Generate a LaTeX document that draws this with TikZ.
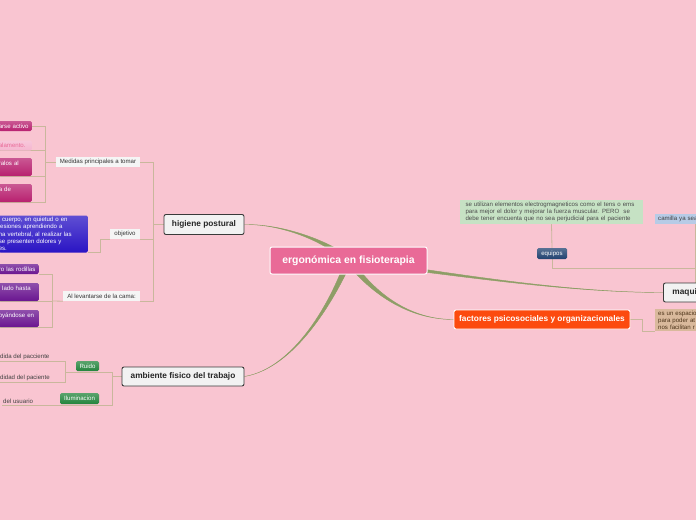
\documentclass[tikz,border=0pt]{standalone}
\usepackage{fontspec}
\setmainfont{Liberation Sans}
\usetikzlibrary{calc, backgrounds}
\definecolor{bgpink}{HTML}{F9C5D1}
\definecolor{rootpink}{HTML}{E96A97}
\definecolor{topicfill}{HTML}{F2F2F2}
\definecolor{topicedge}{HTML}{3A3A3A}
\definecolor{orangered}{HTML}{FC4A0E}
\definecolor{branchcol}{HTML}{8E9E66}
\definecolor{conncol}{HTML}{C9B79C}
\definecolor{tagfill}{HTML}{F5F5F5}
\definecolor{cmag}{HTML}{B8206F}
\definecolor{cpale}{HTML}{F5B5CF}
\definecolor{cblue}{HTML}{2A14C4}
\definecolor{cpurple}{HTML}{6A1590}
\definecolor{cgreen}{HTML}{23843C}
\definecolor{cnavy}{HTML}{214270}
\definecolor{eqgreen}{HTML}{C6E2C4}
\definecolor{camblue}{HTML}{B7CBE6}
\definecolor{tan}{HTML}{D9B99C}
\tikzset{
  every picture/.style={x=1pt, y=-1pt},
  root/.style={fill=rootpink, draw=white, line width=1pt, rounded corners=2pt, text=white,
    font=\fontsize{10.4}{12}\selectfont\bfseries, minimum width=157pt, minimum height=27pt},
  topic/.style={fill=topicfill, draw=topicedge, line width=0.9pt, rounded corners=2pt, text=black!85,
    font=\fontsize{8.3}{10}\selectfont\bfseries, inner sep=0pt, minimum height=20pt},
  tag/.style={fill=tagfill, text=black!80, font=\fontsize{6.1}{7.2}\selectfont, inner sep=0pt, minimum height=10pt},
  pill/.style={top color=#1!75!white, bottom color=#1, draw=none, text=white, rounded corners=1.5pt,
    font=\fontsize{6.1}{7.2}\selectfont, inner sep=0pt, minimum height=10pt},
  cutbox/.style={anchor=east, align=left, inner xsep=0pt, inner ysep=1.5pt},
  leaf/.style={anchor=south west, text=black!75, font=\fontsize{6.1}{7.2}\selectfont, inner sep=1pt},
  conn/.style={draw=conncol, line width=0.8pt},
  branch/.style={fill=branchcol, draw=branchcol, line width=0.4pt},
}
% tapered branch from the central topic
\newcommand{\branch}[5]{%
  \filldraw[branch] ($(#1)+(#5)$) .. controls ($(#2)+0.4*(#5)$) and (#3) .. (#4)
    .. controls (#3) and ($(#2)-0.4*(#5)$) .. ($(#1)-(#5)$) -- cycle;}

\begin{document}
\begin{tikzpicture}
  \useasboundingbox (0,0) rectangle (696,520);

  % main topics
  \node[root] (root) at (348.5,260.5) {ergonómica en fisioterapia};
  \node[topic, minimum width=80pt] (higiene) at (204,224.5) {higiene postural};
  \node[topic, minimum width=122pt, minimum height=19pt] (ambiente) at (183,376.5) {ambiente fisico del trabajo};
  \node[topic, fill=orangered, draw=white, text=white, minimum width=176pt, minimum height=19pt] (factores) at (542,319.5) {factores psicosociales y organizacionales};
  \node[topic, anchor=west, inner xsep=9pt, text width=42pt, align=left, minimum height=19pt] (maqui) at (663,292.5) {maqui};

  % higiene postural
  \node[tag, minimum width=84pt] (medidas) at (98,162) {Medidas principales a tomar};
  \node[tag, minimum width=30pt] (objetivo) at (125,234) {objetivo};
  \node[tag, minimum width=77pt] (levantar) at (101.5,296) {Al levantarse de la cama:};

  \node[cutbox, pill=cmag, text width=33pt] (pk1) at (32,126) {arse activo};
  \node[cutbox, pill=cpale, text=rootpink, text width=33pt] (pk2) at (32,145.5) {alamento.};
  \node[cutbox, pill=cmag, text width=33pt, minimum height=18pt] (pk3) at (32,167) {ralos al\\\mbox{}};
  \node[cutbox, pill=cmag, text width=33pt, minimum height=18pt] (pk4) at (32,193) {a de\\\mbox{}};
  \node[cutbox, pill=cblue, text width=89pt, minimum height=37pt] (blue) at (88,234) {l cuerpo, en quietud o en\\lesiones aprendiendo a\\na vertebral, al realizar las\\ se presenten dolores y\\es.};
  \node[cutbox, pill=cpurple, text width=40pt] (pu1) at (39,269) {ro las rodillas};
  \node[cutbox, pill=cpurple, text width=40pt, minimum height=18pt] (pu2) at (39,292) {l lado hasta\\\mbox{}};
  \node[cutbox, pill=cpurple, text width=40pt, minimum height=17pt] (pu3) at (39,318.5) {oyándose en\\\mbox{}};

  % ambiente fisico del trabajo
  \node[pill=cgreen, minimum width=23pt] (ruido) at (87.5,366) {Ruido};
  \node[pill=cgreen, minimum width=39pt, minimum height=11pt] (ilum) at (79.5,398.5) {Iluminacion};
  \node[leaf] (r1) at (-1,361) {dida del pacciente};
  \node[leaf] (r2) at (-1,382) {didad del paciente};
  \node[leaf] (usuario) at (2,405) {del usuario};

  % right side
  \node[pill=cnavy, minimum width=30pt, minimum height=11pt] (equipos) at (552,253.5) {equipos};
  \node[fill=eqgreen, text=black!70, align=left, text width=172pt, inner xsep=5.5pt, inner ysep=2pt,
    font=\fontsize{6.1}{7.2}\selectfont] (eqtext) at (551.5,212) {se utilizan elementos electrogmagneticos como el tens o ems\\para mejor el dolor y mejorar la fuerza muscular. PERO\ \ se\\debe tener encuenta que no sea perjudicial para el paciente};
  \node[fill=camblue, text=black!75, anchor=west, align=left, text width=50pt, inner xsep=3pt, inner ysep=0pt,
    minimum height=10pt, font=\fontsize{6.1}{7.2}\selectfont] (camilla) at (655,219) {camilla ya sea};
  \node[fill=tan, text=black!60!brown, anchor=west, align=left, text width=50pt, inner xsep=3pt, inner ysep=1.5pt,
    minimum height=22pt, font=\fontsize{6.1}{6.9}\selectfont] (espacio) at (655,320) {es un espacio\\para poder at\\nos facilitan r};

  \coordinate (hsp) at (153,224.5);
  \coordinate (msp) at (45,162);
  \coordinate (lsp) at (52,301);
  \coordinate (asp) at (112,376.5);
  \coordinate (rsp) at (65,372);
  \coordinate (qsp) at (695,268.5);

  \begin{scope}[on background layer]
    \fill[bgpink] (0,0) rectangle (696,520);
    % branches from the centre
    \branch{root.center}{330,243}{285,224}{higiene.east}{2.4,-2.4}
    \branch{root.center}{333,300}{295,368}{ambiente.east}{3,1.1}
    \branch{root.center}{378,300}{415,319.5}{factores.west}{2.6,-1.8}
    \branch{root.center}{440,272}{560,292.5}{maqui.west}{-0.3,2.3}
    % higiene postural
    \draw[conn] (higiene.west) -- (hsp);
    \draw[conn] (medidas.east) -| (hsp |- levantar.south) -- (levantar.south east);
    \draw[conn] (objetivo.south east) -- (hsp |- objetivo.south);
    \draw[conn] (blue.south east) -- ++(12,0) |- (objetivo.south west);
    \draw[conn] (medidas.west) -- (msp);
    \draw[conn] (pk1.east) -| (msp |- pk4.south) -- (pk4.south west);
    \draw[conn] (pk2.south west) -- (msp |- pk2.south);
    \draw[conn] (pk3.south west) -- (msp |- pk3.south);
    \draw[conn] (levantar.south west) -- (lsp);
    \draw[conn] (pu1.south east) -| (lsp |- pu3.south) -- (pu3.south west);
    \draw[conn] (pu2.south west) -- (lsp |- pu2.south);
    % ambiente fisico del trabajo
    \draw[conn] (ambiente.west) -- (asp);
    \draw[conn] (rsp) -- (asp |- rsp) -- (asp |- usuario.south) -- (usuario.south west);
    \draw[conn] (r1.south west) -| (rsp |- r2.south) -- (r2.south west);
    % right side
    \draw[conn] (eqtext.south) -- (equipos.north);
    \draw[conn] (equipos.south) |- (qsp);
    \draw[conn] (qsp |- camilla.south) -- (qsp |- maqui.north);
    \draw[conn] (factores.east) -- ++(12,0) |- (espacio.south west);
  \end{scope}
\end{tikzpicture}
\end{document}
